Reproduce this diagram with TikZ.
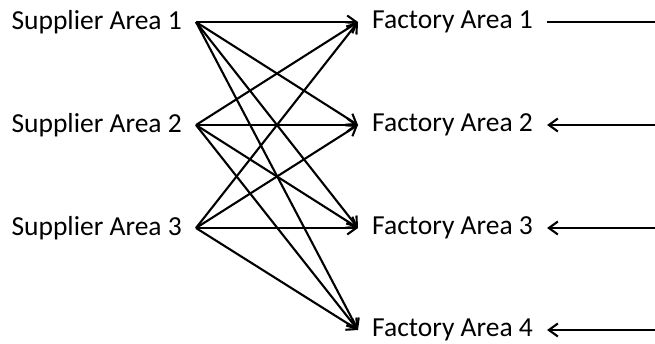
\documentclass[tikz,border=0pt]{standalone}
\usepackage{fontspec}
\setmainfont{Carlito}
\usetikzlibrary{arrows.meta}
\tikzset{
  area/.style={font=\fontsize{27.5}{31}\selectfont, inner xsep=14pt, inner ysep=0pt},
  link/.style={line width=2.1pt, -{Straight Barb[length=9pt,width=13pt,line width=2.1pt]}},
  feed/.style={line width=2.1pt}
}
\begin{document}
\begin{tikzpicture}[x=1pt, y=-1pt]
  \useasboundingbox (0,0) rectangle (655,343);
  % supplier areas
  \foreach \i/\y in {1/22, 2/125, 3/228}
    \node[area, anchor=east] (s\i) at (196,\y) {Supplier Area \i};
  % factory areas
  \foreach \j/\y in {1/22, 2/125, 3/228, 4/330}
    \node[area, anchor=west] (f\j) at (358,\y) {Factory Area \j};
  % right-hand ends
  \foreach \j/\y in {1/22, 2/125, 3/228, 4/330}
    \coordinate (r\j) at (655,\y);
  % every supplier ships to every factory
  \foreach \i in {1,2,3}
    \foreach \j in {1,2,3,4}
      \draw[link] (s\i.east) -- (f\j.west);
  % inputs on the right
  \draw[feed] (f1.east) -- (r1);
  \foreach \j in {2,3,4}
    \draw[link] (r\j) -- (f\j.east);
\end{tikzpicture}
\end{document}
